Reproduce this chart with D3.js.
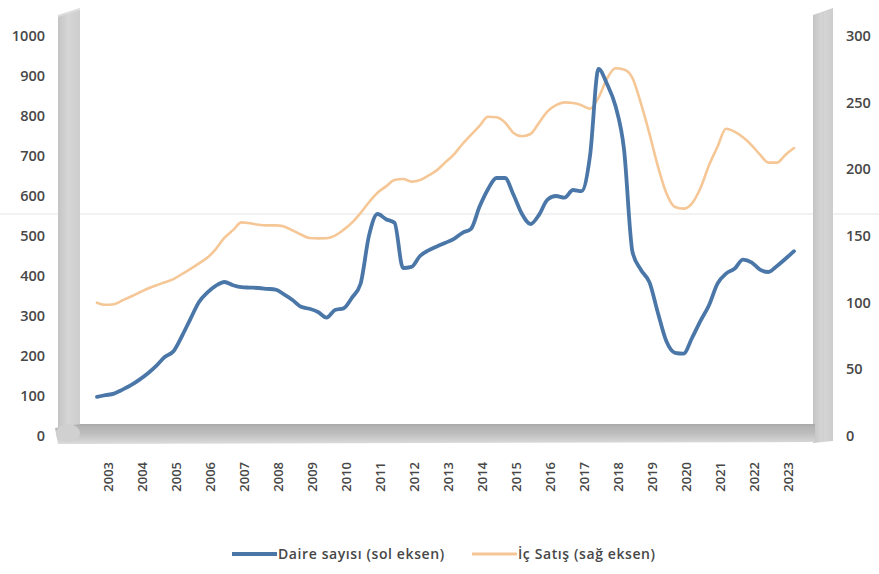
<!DOCTYPE html>
<html>
<head>
<meta charset="utf-8">
<script src="https://cdn.jsdelivr.net/npm/d3@7/dist/d3.min.js"></script>
<style>
  html, body { margin: 0; padding: 0; background: #fff; }
  svg { display: block; }
  text { font-family: "Open Sans", "Noto Sans", sans-serif; }
</style>
</head>
<body>
<svg id="chart" width="879" height="574"></svg>
<script>
// ---- Data (quarterly, 2003 Q1 .. 2023 Q3) ----
const startYear = 2003;
const yearLabels = ["2003","2004","2005","2006","2007","2008","2009","2010","2011","2012","2013","2014","2015","2016","2017","2018","2019","2020","2021","2022","2023"];
const leftTicks = [0,100,200,300,400,500,600,700,800,900,1000];
const rightTicks = [0,50,100,150,200,250,300];

// Daire sayısı (sol eksen)
const daireSayisi = [
  98,102,106,116, 127,141,157,176, 198,212,250,293, 335,359,376,385,
  377,372,371,370, 368,366,354,340, 323,318,310,296, 315,319,346,380,
  501,555,542,533, 420,423,450,464, 474,483,493,508, 518,573,617,645,
  645,603,555,530, 553,591,600,596, 615,612,700,918, 880,825,717,460,
  415,384,307,236, 208,206,245,288, 327,381,406,418, 441,434,416,410,
  425,443,462
];
// İç Satış (sağ eksen)
const icSatis = [
  100,98.4,98.8,101.7, 104.6,107.6,110.6,113.1, 115.3,117.7,121.5,125.3, 129.5,133.8,140.4,148.7,
  154.4,160.2,159.5,158.4, 158,158,157.1,154.2, 151.1,148.5,148.2,148.3, 150.3,154.6,160,167.2,
  175.3,182.4,187.2,192, 192.8,190.8,192,195.4, 199.4,205.4,211.3,219, 225.8,232.6,239.4,239,
  235.1,227.3,224.8,226.5, 235,243.5,248.2,250.2, 249.7,248.1,245.4,253.7, 268,275.8,274.9,268.4,
  249.2,226.6,202,181.8, 171.7,170.5,174.5,186, 203,216.9,230.4,228.3, 224,218.2,211,205,
  205,211,216
];
const seriesNames = ["Daire sayısı (sol eksen)", "İç Satış (sağ eksen)"];
const seriesColors = ["#4a77a8", "#f6c796"];

// ---- Scales ----
const svg = d3.select("#chart");
const x = d3.scaleLinear().domain([startYear, startYear + (daireSayisi.length - 1) / 4]).range([97, 794]);
const yL = d3.scaleLinear().domain([0, 1000]).range([436, 36]);
const yR = d3.scaleLinear().domain([0, 300]).range([436, 36]);
const tOf = i => startYear + i / 4;

// faint scan line
svg.append("line").attr("x1", 0).attr("x2", 879).attr("y1", 214).attr("y2", 214)
  .attr("stroke", "#eeeeee").attr("stroke-width", 1.5);

// ---- 3D walls & floor ----
const wall = svg.append("g");
const defs = svg.append("defs");
const lg = defs.append("linearGradient").attr("id", "wallGrad").attr("x1", "0").attr("x2", "1").attr("y1", "0").attr("y2", "0");
lg.append("stop").attr("offset", "0").attr("stop-color", "#c4c4c4");
lg.append("stop").attr("offset", "0.45").attr("stop-color", "#d6d6d6");
lg.append("stop").attr("offset", "1").attr("stop-color", "#cdcdcd");
const fg = defs.append("linearGradient").attr("id", "floorGrad").attr("x1", "0").attr("x2", "0").attr("y1", "0").attr("y2", "1");
fg.append("stop").attr("offset", "0").attr("stop-color", "#b0b0b0");
fg.append("stop").attr("offset", "0.45").attr("stop-color", "#bcbcbc");
fg.append("stop").attr("offset", "1").attr("stop-color", "#dcdcdc");

// left wall
wall.append("path").attr("d", "M58,16 L80,9 L80,436 L58,441 Z").attr("fill", "url(#wallGrad)");
wall.append("path").attr("d", "M58,16 L80,9").attr("stroke", "#dddddd").attr("stroke-width", 2);
wall.append("line").attr("x1", 66).attr("x2", 66).attr("y1", 14).attr("y2", 438).attr("stroke", "#cfcfcf").attr("stroke-width", 1);
// right wall
wall.append("path").attr("d", "M813,15 L833,8 L833,441 L813,443 Z").attr("fill", "url(#wallGrad)");
wall.append("line").attr("x1", 823).attr("x2", 823).attr("y1", 12).attr("y2", 441).attr("stroke", "#cbcbcb").attr("stroke-width", 1);
// floor
wall.append("path").attr("d", "M55,428 L80,424 L815,424 L815,442 L58,444 Z").attr("fill", "url(#floorGrad)");
wall.append("line").attr("x1", 80).attr("x2", 815).attr("y1", 425).attr("y2", 425).attr("stroke", "#aaaaaa").attr("stroke-width", 1.5);
wall.append("ellipse").attr("cx", 68).attr("cy", 433).attr("rx", 12).attr("ry", 9).attr("fill", "#d0d0d0");

// ---- Lines ----
const lineL = d3.line().x((d, i) => x(tOf(i))).y(d => yL(d)).curve(d3.curveMonotoneX);
const lineR = d3.line().x((d, i) => x(tOf(i))).y(d => yR(d)).curve(d3.curveMonotoneX);

svg.append("path").datum(icSatis).attr("d", lineR)
  .attr("fill", "none").attr("stroke", seriesColors[1]).attr("stroke-width", 2.6)
  .attr("stroke-linejoin", "round").attr("stroke-linecap", "round");
svg.append("path").datum(daireSayisi).attr("d", lineL)
  .attr("fill", "none").attr("stroke", seriesColors[0]).attr("stroke-width", 3.8)
  .attr("stroke-linejoin", "round").attr("stroke-linecap", "round");

// ---- Axes ----
const axL = svg.append("g").attr("transform", "translate(45,0)")
  .call(d3.axisLeft(yL).tickValues(leftTicks).tickSize(0).tickPadding(0).tickFormat(d3.format("d")));
const axR = svg.append("g").attr("transform", "translate(846,0)")
  .call(d3.axisRight(yR).tickValues(rightTicks).tickSize(0).tickPadding(0).tickFormat(d3.format("d")));
[axL, axR].forEach(a => {
  a.select(".domain").remove();
  a.selectAll("text").attr("fill", "#474747").style("font-size", "14.5px").style("font-weight", "600")
    .attr("font-family", "'Open Sans', sans-serif");
});

const labelShift = 0.32; // label centred inside each year
const axB = svg.append("g").attr("transform", "translate(0,462)")
  .call(d3.axisBottom(x).tickValues(yearLabels.map(y => +y + labelShift)).tickSize(0)
    .tickFormat((d, i) => yearLabels[i]));
axB.select(".domain").remove();
axB.selectAll("text")
  .attr("transform", "rotate(-90)")
  .attr("x", 0).attr("y", 0).attr("dy", "0.35em")
  .attr("text-anchor", "end")
  .attr("fill", "#474747").style("font-size", "13px").style("font-weight", "600");

// ---- Legend ----
const legend = svg.append("g");
const legendItems = [
  { x1: 232, x2: 277, w: 4, tx: 278 },
  { x1: 472, x2: 517, w: 3, tx: 518 }
];
legendItems.forEach((it, i) => {
  legend.append("line").attr("x1", it.x1).attr("x2", it.x2).attr("y1", 554).attr("y2", 554)
    .attr("stroke", seriesColors[i]).attr("stroke-width", it.w);
  legend.append("text").attr("x", it.tx).attr("y", 554).attr("dy", "0.35em")
    .attr("fill", "#474747").style("font-size", "14px").style("font-weight", "600")
    .style("letter-spacing", "0.6px")
    .text(seriesNames[i]);
});
</script>
</body>
</html>
